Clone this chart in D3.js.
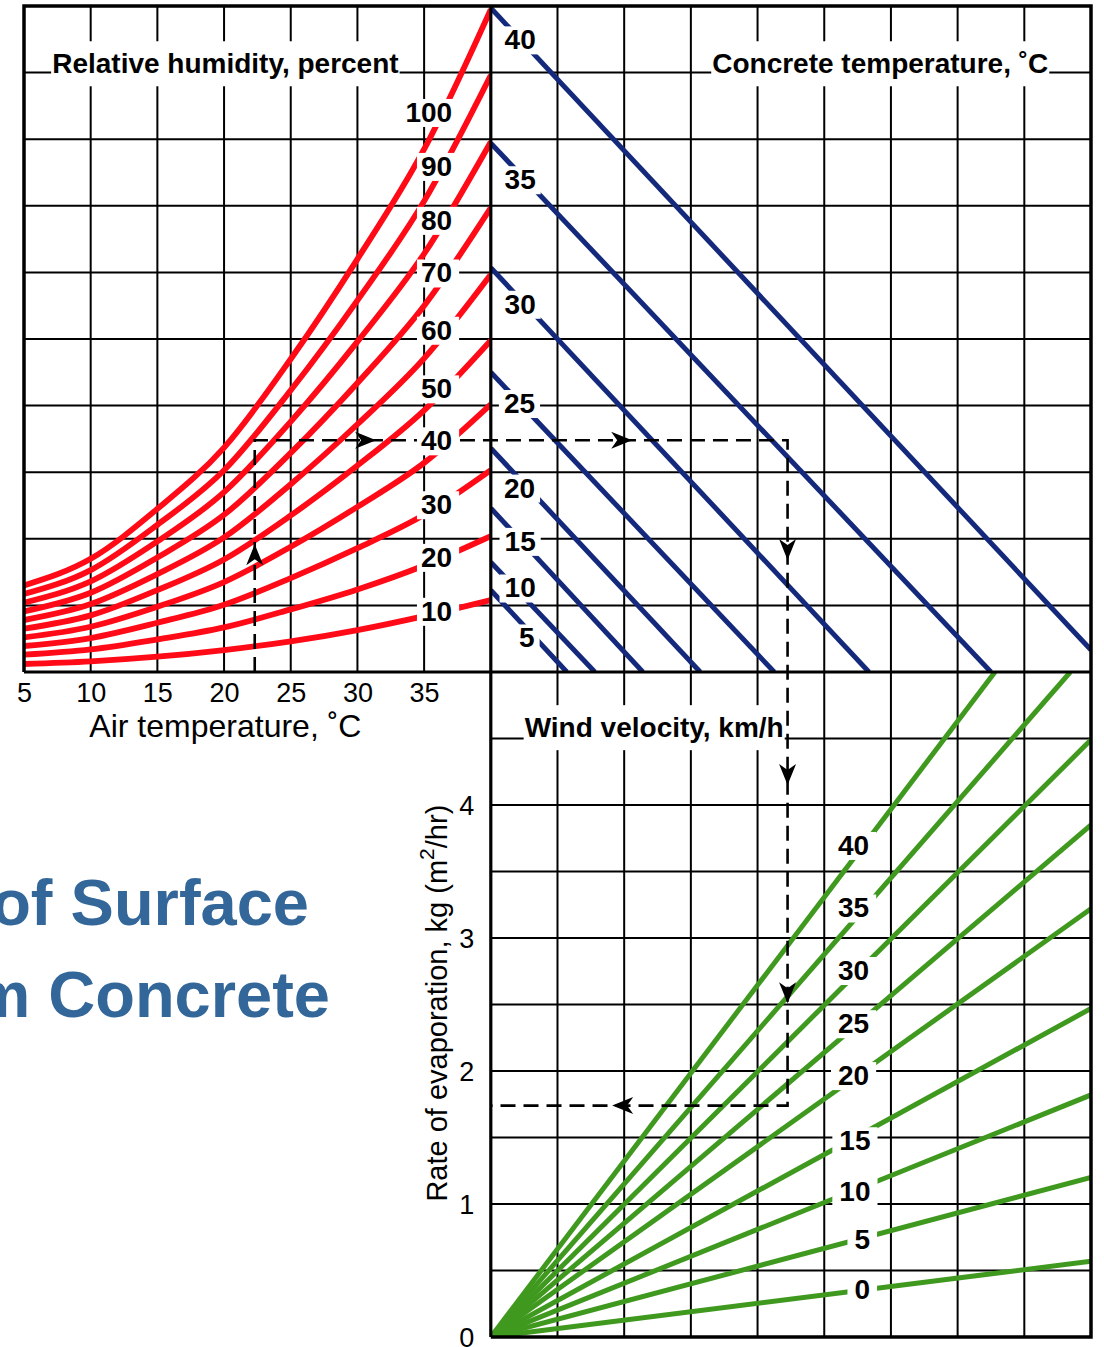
<!DOCTYPE html>
<html>
<head>
<meta charset="utf-8">
<script src="https://cdn.jsdelivr.net/npm/d3@7"></script>
<style>
    html, body { margin: 0; padding: 0; background: #fff; }
    svg { display: block; font-family: "Liberation Sans", Arial, Helvetica, sans-serif; }
</style>
</head>
<body>
<svg id="chart" width="1104" height="1347"></svg>
<script>

// relative humidity curves (vapour pressure in grid units 0-10) at each air temperature
var airTemps = [5, 10, 15, 20, 25, 30, 35, 40];
var rhLevels = [100, 90, 80, 70, 60, 50, 40, 30, 20, 10];
var rh100 = [1.30, 1.70, 2.45, 3.37, 4.70, 6.20, 7.85, 9.95];
var rh90  = [1.17, 1.53, 2.21, 3.03, 4.23, 5.58, 7.07, 8.96];
var rh80  = [1.04, 1.36, 1.96, 2.70, 3.76, 4.96, 6.28, 7.96];
var rh70  = [0.91, 1.19, 1.72, 2.36, 3.29, 4.34, 5.50, 6.97];
var rh60  = [0.78, 1.02, 1.47, 2.02, 2.82, 3.72, 4.71, 5.97];
var rh50  = [0.65, 0.85, 1.23, 1.69, 2.35, 3.10, 3.93, 4.98];
var rh40  = [0.52, 0.68, 0.98, 1.35, 1.88, 2.48, 3.14, 4.02];
var rh30  = [0.39, 0.51, 0.74, 1.01, 1.41, 1.86, 2.36, 3.03];
var rh20  = [0.26, 0.34, 0.49, 0.67, 0.94, 1.24, 1.60, 2.04];
var rh10  = [0.12, 0.16, 0.23, 0.33, 0.46, 0.63, 0.84, 1.08];
var rhLabelY = [8.41, 7.60, 6.79, 6.00, 5.14, 4.26, 3.48, 2.52, 1.73, 0.92];

// concrete temperature lines: start on the left edge, end on bottom / right edge
var concreteTemps = [40, 35, 30, 25, 20, 15, 10, 5];
var concreteStartY = [9.97, 7.94, 6.07, 4.50, 3.36, 2.46, 1.65, 1.23];
var concreteEndX = [9, 7.50, 5.67, 4.25, 3.14, 2.28, 1.56, 1.14];
var concreteEndY = [0.33, 0, 0, 0, 0, 0, 0, 0];
var concreteLabelX = [0.44, 0.44, 0.44, 0.43, 0.43, 0.44, 0.44, 0.54];
var concreteLabelY = [9.50, 7.40, 5.53, 4.04, 2.77, 1.97, 1.27, 0.52];

// wind velocity lines from the origin
var windSpeeds = [40, 35, 30, 25, 20, 15, 10, 5, 0];
var windEndX = [7.56, 8.69, 9, 9, 9, 9, 9, 9, 9];
var windEndRate = [5, 5, 4.49, 3.85, 3.22, 2.47, 1.82, 1.20, 0.57];
var windLabelX = [5.44, 5.44, 5.44, 5.44, 5.44, 5.46, 5.46, 5.57, 5.57];
var windLabelRate = [3.70, 3.23, 2.76, 2.36, 1.97, 1.48, 1.10, 0.74, 0.36];

// axis ticks
var airTicks = [5, 10, 15, 20, 25, 30, 35];
var rateTicks = [0, 1, 2, 3, 4];

// worked example (dashed path)
var exAirTemp = 22.3;
var exVapour = 3.48;
var exDiff = 4.45;
var exRate = 1.74;

// ----- layout (note: "top" is taken by window.top, so plain names are avoided)
var xLeft = 24, xMid = 490.8, xRight = 1091;
var yTop = 6, yMid = 672, yBottom = 1337;

var red = "#ff0a16", blue = "#14297b", green = "#40991f";

var svg = d3.select("#chart");

var xAir = d3.scaleLinear().domain([5, 40]).range([xLeft, xMid]);
var xDiff = d3.scaleLinear().domain([0, 9]).range([xMid, xRight]);
var yVap = d3.scaleLinear().domain([0, 10]).range([yMid, yTop]);
var yRate = d3.scaleLinear().domain([0, 5]).range([yBottom, yMid]);

drawGrid();
drawTitles();
drawCurves();
drawExample();
drawCurveLabels();
drawArrows();
drawBorders();
drawAxes();

function drawGrid() {
    var g = svg.append("g").attr("stroke", "#000").attr("stroke-width", 2);
    // top-left verticals
    g.selectAll(".v1").data(airTicks.filter(function (d) { return d > 5; }))
        .enter().append("line")
        .attr("x1", function (d) { return xAir(d); }).attr("x2", function (d) { return xAir(d); })
        .attr("y1", yTop).attr("y2", yMid);
    // top horizontals
    g.selectAll(".h1").data(d3.range(1, 10))
        .enter().append("line")
        .attr("x1", xLeft).attr("x2", xRight)
        .attr("y1", function (d) { return yVap(d); }).attr("y2", function (d) { return yVap(d); });
    // right-side verticals
    g.selectAll(".v2").data(d3.range(1, 9))
        .enter().append("line")
        .attr("x1", function (d) { return xDiff(d); }).attr("x2", function (d) { return xDiff(d); })
        .attr("y1", yTop).attr("y2", yBottom);
    // bottom horizontals
    g.selectAll(".h2").data(d3.range(1, 10).map(function (d) { return d / 2; }))
        .enter().append("line")
        .attr("x1", xMid).attr("x2", xRight)
        .attr("y1", function (d) { return yRate(d); }).attr("y2", function (d) { return yRate(d); });
}

function titleText(x, y, text) {
    var g = svg.append("g");
    var rect = g.append("rect").attr("fill", "#fff");
    var t = g.append("text")
        .attr("x", x).attr("y", y)
        .attr("text-anchor", "middle")
        .attr("font-size", 28).attr("font-weight", "bold")
        .text(text);
    var bb = t.node().getBBox();
    rect.attr("x", bb.x - 1).attr("width", bb.width + 2)
        .attr("y", y - 32).attr("height", 45);
}

function drawTitles() {
    titleText(xAir(20.1), yVap(8.99), "Relative humidity, percent");
    titleText(xDiff(5.84), yVap(8.99), "Concrete temperature, \u02DAC");
    titleText(xDiff(2.45), yRate(4.51), "Wind velocity, km/h");
}

function drawCurves() {
    var defs = svg.append("defs");
    defs.append("clipPath").attr("id", "clip-tl").append("rect")
        .attr("x", xLeft).attr("y", yTop).attr("width", xMid - xLeft).attr("height", yMid - yTop);
    defs.append("clipPath").attr("id", "clip-tr").append("rect")
        .attr("x", xMid).attr("y", yTop).attr("width", xRight - xMid).attr("height", yMid - yTop);
    defs.append("clipPath").attr("id", "clip-br").append("rect")
        .attr("x", xMid).attr("y", yMid).attr("width", xRight - xMid).attr("height", yBottom - yMid);

    // humidity curves
    var rhSeries = [rh100, rh90, rh80, rh70, rh60, rh50, rh40, rh30, rh20, rh10];
    var line = d3.line()
        .curve(d3.curveMonotoneX)
        .x(function (d, i) { return xAir(airTemps[i]); })
        .y(function (d) { return yVap(d); });
    svg.append("g").attr("clip-path", "url(#clip-tl)")
        .selectAll("path").data(rhSeries)
        .enter().append("path")
        .attr("d", line)
        .attr("fill", "none").attr("stroke", red).attr("stroke-width", 5.8);

    // concrete temperature lines
    svg.append("g").attr("clip-path", "url(#clip-tr)")
        .selectAll("line").data(concreteTemps)
        .enter().append("line")
        .attr("x1", xDiff(0)).attr("y1", function (d, i) { return yVap(concreteStartY[i]); })
        .attr("x2", function (d, i) { return xDiff(concreteEndX[i]); })
        .attr("y2", function (d, i) { return yVap(concreteEndY[i]); })
        .attr("stroke", blue).attr("stroke-width", 5);

    // wind lines
    svg.append("g").attr("clip-path", "url(#clip-br)")
        .selectAll("line").data(windSpeeds)
        .enter().append("line")
        .attr("x1", xDiff(0)).attr("y1", yRate(0))
        .attr("x2", function (d, i) { return xDiff(windEndX[i]); })
        .attr("y2", function (d, i) { return yRate(windEndRate[i]); })
        .attr("stroke", green).attr("stroke-width", 5);
}

function drawExample() {
    var pts = [
        [xAir(exAirTemp), yVap(0)],
        [xAir(exAirTemp), yVap(exVapour)],
        [xDiff(exDiff), yVap(exVapour)],
        [xDiff(exDiff), yRate(exRate)],
        [xDiff(0), yRate(exRate)]
    ];
    svg.append("path")
        .attr("d", d3.line()(pts))
        .attr("fill", "none").attr("stroke", "#000")
        .attr("stroke-width", 2.6).attr("stroke-dasharray", "15,8");
}

function boxedNumber(x, y, text, anchor, pad) {
    var g = svg.append("g");
    var rect = g.append("rect").attr("fill", "#fff");
    var t = g.append("text")
        .attr("x", x).attr("y", y).attr("dy", "0.36em")
        .attr("text-anchor", anchor)
        .attr("font-size", 28).attr("font-weight", "bold")
        .text(text);
    var bb = t.node().getBBox();
    rect.attr("x", bb.x - pad[0]).attr("width", bb.width + pad[0] + pad[1])
        .attr("y", bb.y + 2).attr("height", bb.height - 3);
}

function drawCurveLabels() {
    rhLevels.forEach(function (d, i) {
        boxedNumber(xAir(37.1), yVap(rhLabelY[i]), d, "end", [4, 7]);
    });
    concreteTemps.forEach(function (d, i) {
        boxedNumber(xDiff(concreteLabelX[i]), yVap(concreteLabelY[i]), d, "middle", [5, 5]);
    });
    windSpeeds.forEach(function (d, i) {
        boxedNumber(xDiff(windLabelX[i]), yRate(windLabelRate[i]), d, "middle", [7, 7]);
    });
}

function drawArrows() {
    var arrows = [
        { x: xAir(exAirTemp), y: yVap(1.92), a: -90 },
        { x: xAir(31.4), y: yVap(exVapour), a: 0 },
        { x: xDiff(2.12), y: yVap(exVapour), a: 0 },
        { x: xDiff(exDiff), y: yVap(1.68), a: 90 },
        { x: xDiff(exDiff), y: yRate(4.15), a: 90 },
        { x: xDiff(exDiff), y: yRate(2.51), a: 90 },
        { x: xDiff(1.82), y: yRate(exRate), a: 180 }
    ];
    svg.append("g").selectAll("path").data(arrows)
        .enter().append("path")
        .attr("d", "M0,0 L-21,-8.5 L-15,0 L-21,8.5 Z")
        .attr("transform", function (d) { return "translate(" + d.x + "," + d.y + ") rotate(" + d.a + ")"; })
        .attr("fill", "#000");
}

function drawBorders() {
    var g = svg.append("g").attr("stroke", "#000").attr("fill", "none");
    g.append("path")
        .attr("d", "M" + xLeft + "," + yMid + "V" + yTop + "H" + xRight + "V" + yBottom + "H" + xMid)
        .attr("stroke-width", 3.5);
    g.append("line").attr("x1", xMid).attr("x2", xMid).attr("y1", yTop).attr("y2", yBottom).attr("stroke-width", 3.2);
    g.append("line").attr("x1", xLeft).attr("x2", xRight).attr("y1", yMid).attr("y2", yMid).attr("stroke-width", 3.2);
}

function drawAxes() {
    // air temperature
    var ax = svg.append("g")
        .attr("transform", "translate(0," + yMid + ")")
        .call(d3.axisBottom(xAir).tickValues(airTicks).tickSize(0).tickPadding(11));
    ax.select(".domain").remove();
    ax.selectAll("text").attr("font-size", 27).attr("font-family", null).attr("fill", "#000");

    svg.append("text")
        .attr("x", xAir(20.1)).attr("y", yMid + 65)
        .attr("text-anchor", "middle").attr("font-size", 32)
        .text("Air temperature, \u02DAC");

    // rate of evaporation (upright tick numbers)
    var ay = svg.append("g")
        .attr("transform", "translate(" + xMid + ",0)")
        .call(d3.axisLeft(yRate).tickValues(rateTicks).tickSize(0).tickFormat(d3.format("d")));
    ay.select(".domain").remove();
    ay.selectAll("text")
        .attr("font-size", 27).attr("font-family", null).attr("fill", "#000")
        .attr("x", -24).attr("dy", "0.36em")
        .attr("text-anchor", "middle");

    var yl = svg.append("text")
        .attr("transform", "translate(" + (xMid - 44) + "," + yRate(2.51) + ") rotate(-90)")
        .attr("text-anchor", "middle").attr("font-size", 29);
    yl.append("tspan").text("Rate of evaporation, kg (m");
    yl.append("tspan").attr("font-size", 21).attr("dy", "-0.6em").text("2");
    yl.append("tspan").attr("dy", "0.45em").text("/hr)");

    // title fragment on the left
    var title = svg.append("g")
        .attr("fill", "#336699").attr("font-size", 65).attr("font-weight", "bold")
        .attr("text-anchor", "end");
    title.append("text").attr("x", 309).attr("y", 925).text("of Surface");
    title.append("text").attr("x", 330).attr("y", 1017).text("m Concrete");
}
</script>
</body>
</html>
